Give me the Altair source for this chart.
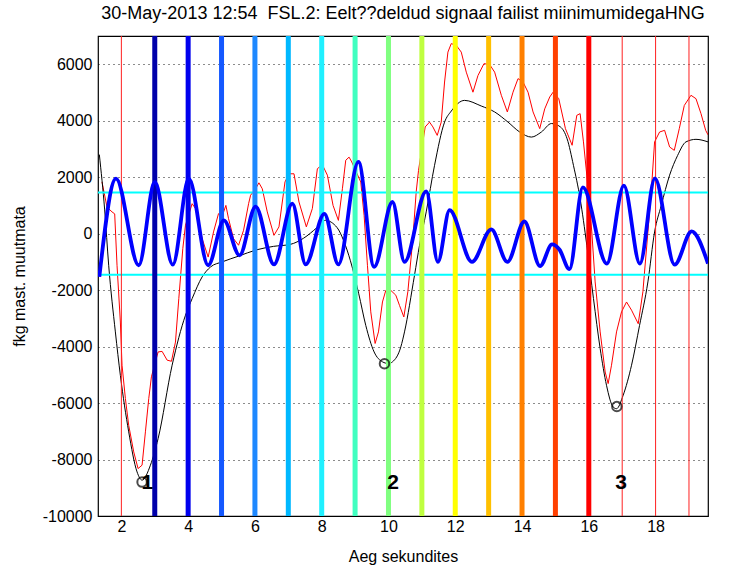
import altair as alt
import pandas as pd

title_text = "30-May-2013 12:54 \u00a0FSL.2: Eelt??deldud signaal failist miinimumidegaHNG"
x_title = "Aeg sekundites"
y_title = "fkg mast. muutmata"

# blue oscillating signal
blue_x = [1.34, 1.84, 2.52, 3.0, 3.54, 4.02, 4.6, 5.07, 5.54, 6.02, 6.57, 7.12, 7.52, 8.08, 8.5,
          9.1, 9.57, 10.12, 10.48, 11.13, 11.48, 11.83, 12.5, 13.08, 13.56, 14.07, 14.54, 14.9,
          15.12, 15.42, 15.82, 16.54, 17.05, 17.53, 17.98, 18.57, 19.08, 19.57]
blue_y = [-1530, 1950, -1120, 1830, -1100, 1950, -1120, 470, -770, 960, -1090, 1060, -1090, 700, -1090,
          2540, -1180, 1120, -1000, 1500, -1000, 830, -1000, 150, -1000, 430, -1150, -380,
          -560, -1260, 1640, -1060, 1700, -1060, 1960, -1100, 80, -1060]

# red noisy signal
red_x = [1.42, 1.57, 1.72, 1.8, 1.87, 1.97, 2.02, 2.12, 2.22, 2.37, 2.5, 2.62, 2.72, 2.82, 2.9,
         3.1, 3.22, 3.37, 3.5, 3.62, 3.72, 3.84, 3.92, 4.12, 4.22, 4.42, 4.6, 4.76, 4.91, 5.01,
         5.13, 5.21, 5.36, 5.51, 5.66, 5.81, 5.87, 6.02, 6.12, 6.22, 6.37, 6.57, 6.72, 6.9, 7.02,
         7.17, 7.32, 7.54, 7.72, 7.87, 8.02, 8.17, 8.34, 8.5, 8.62, 8.72, 8.82, 8.9, 9.17, 9.27,
         9.37, 9.47, 9.6, 9.7, 9.82, 9.92, 10.07, 10.22, 10.33, 10.46, 10.58, 10.73, 10.83, 10.9,
         11.1, 11.23, 11.33, 11.46, 11.58, 11.68, 11.78, 11.88, 12.03, 12.18, 12.33, 12.53, 12.68,
         12.86, 13.03, 13.18, 13.38, 13.56, 13.73, 13.88, 14.03, 14.18, 14.33, 14.53, 14.68, 14.83,
         14.93, 15.1, 15.3, 15.5, 15.64, 15.74, 15.84, 15.94, 16.09, 16.19, 16.34, 16.49, 16.58,
         16.68, 16.83, 16.98, 17.13, 17.28, 17.48, 17.62, 17.77, 17.87, 17.97, 18.12, 18.27, 18.42,
         18.56, 18.71, 18.86, 19.06, 19.21, 19.36, 19.5, 19.57]
red_y = [1830, 940, 770, 700, -1120, -3130, -4660, -5840, -6790, -7730, -8320, -8200, -7020, -5840, -5070,
         -4190, -4170, -4480, -4520, -3840, -2300, -530, 300, 1060, 890, -180, -830, 60, 710, 590,
         1000, 530, -180, -410, 120, 1060, 1360, 1590, 1800, 1590, 770, -60, 240, 1830, 2120,
         2120, 1120, 240, 890, 2300, 2440, 2070, 1000, 470, 1590, 2600, 2710, 2540, 1830, 650,
         -1120, -2770, -3890, -3480, -2420, -2010, -2010, -2180, -2540, -2950, -2060, -180, 1480, 2240,
         3780, 3950, 3780, 3480, 3950, 5370, 6430, 6730, 6670, 6430, 5720, 5010, 5600,
         6020, 5990, 5720, 4900, 4310, 5010, 5490, 5370, 5010, 4310, 3720, 4420, 4840,
         5010, 4780, 3720, 3130, 4190, 4250, 3250, 2070, 60, -1710, -3480, -4900, -5310,
         -4660, -3480, -2770, -2420, -2710, -3190, -2060, 60, 1480, 3250, 3600, 3660, 3070,
         2950, 3720, 4540, 4900, 4780, 4250, 3660, 3500]

# black smooth signal
black_x = [1.34, 1.5, 1.62, 1.82, 1.97, 2.22, 2.47, 2.62, 2.87, 3.1, 3.52, 3.92, 4.12, 4.42, 4.67,
           5.02, 5.5, 6.06, 6.56, 7.06, 7.46, 7.86, 8.11, 8.46, 8.66, 8.86, 9.11, 9.32, 9.57, 9.82,
           10.0, 10.12, 10.37, 10.48, 10.78, 10.93, 11.13, 11.38, 11.68, 11.88, 12.28, 12.78, 13.18,
           13.58, 13.93, 14.28, 14.58, 14.88, 15.15, 15.35, 15.54, 15.74, 15.94, 16.14, 16.34, 16.53,
           16.73, 16.83, 17.03, 17.28, 17.52, 17.77, 17.97, 18.17, 18.42, 18.66, 18.91, 19.21, 19.57]
black_y = [2800, 840, -1120, -3480, -5020, -7020, -8440, -8730, -8200, -7260, -4660, -2890, -2300, -1530, -1180,
           -1000, -800, -570, -450, -380, -160, 215, 470, 215, -255, -960, -2130, -3250, -4190, -4540,
           -4600, -4540, -4010, -3480, -1470, -410, 770, 2420, 3950, 4340, 4720, 4520, 4310,
           3950, 3600, 3420, 3600, 3900, 3780, 3360, 2420, 1240, -410, -2300, -4070, -5370,
           -6140, -6200, -5720, -4660, -3250, -1710, 60, 1000, 2070, 2770, 3250, 3340, 3250]

# minima markers and labels
min_x = [2.62, 9.88, 16.84]
min_y = [-8800, -4610, -6120]
lab_x = [2.78, 10.14, 16.97]
lab_y = [-8820, -8820, -8820]
lab_t = ["1", "2", "3"]

# threshold lines
thr_y = [1460, -1460]

# vertical second markers
vthin_x = [2, 17, 18, 19]
vthick_x = [3, 4, 5, 6, 7, 8, 9, 10, 11, 12, 13, 14, 15, 16]
vthick_c = ["#0000aa", "#0000ee", "#1458ff", "#1e88ff", "#00b8ff", "#20f0ff", "#40ffc0",
            "#80ff80", "#bfff40", "#ffff00", "#ffc000", "#ff8000", "#ff4000", "#ff0000"]

x_ticks = [2, 4, 6, 8, 10, 12, 14, 16, 18]
y_ticks = [-10000, -8000, -6000, -4000, -2000, 0, 2000, 4000, 6000]
X_DOMAIN = [1.3, 19.57]
Y_DOMAIN = [-10000, 7000]

FONT = "Liberation Sans"

xenc = alt.X("x:Q", scale=alt.Scale(domain=X_DOMAIN, nice=False, zero=False),
             axis=alt.Axis(values=x_ticks, title=x_title, labelExpr="'' + datum.value", grid=False,
                           titleX=305, titleY=40, titleBaseline="middle", titleAlign="center"))
yenc = alt.Y("y:Q", scale=alt.Scale(domain=Y_DOMAIN, nice=False, zero=False),
             axis=alt.Axis(values=y_ticks, title=y_title, labelExpr="'' + datum.value",
                           titleX=-79, titleY=240, titleBaseline="middle", titleAlign="center",
                           titleAngle=-90))

df_blue = pd.DataFrame({"x": blue_x, "y": blue_y})
df_red = pd.DataFrame({"x": red_x, "y": red_y})
df_black = pd.DataFrame({"x": black_x, "y": black_y})
df_min = pd.DataFrame({"x": min_x, "y": min_y})
df_lab = pd.DataFrame({"x": lab_x, "y": lab_y, "t": lab_t})
df_thr = pd.DataFrame({"y": thr_y})
df_vthin = pd.DataFrame({"x": vthin_x})
df_vthick = pd.DataFrame({"x": vthick_x, "c": vthick_c})

red = alt.Chart(df_red).mark_line(color="#ff0000", strokeWidth=1, clip=True).encode(x=xenc, y=yenc)
black = alt.Chart(df_black).mark_line(color="#000000", strokeWidth=1, clip=True,
                                      interpolate="monotone").encode(x=xenc, y=yenc)
thr = alt.Chart(df_thr).mark_rule(color="#00ffff", strokeWidth=2).encode(y=yenc)
vthin = alt.Chart(df_vthin).mark_rule(color="#ff2020", strokeWidth=1).encode(x=xenc)
vthick = alt.Chart(df_vthick).mark_rule(strokeWidth=5).encode(
    x=xenc, color=alt.Color("c:N", scale=None, legend=None))
blue = alt.Chart(df_blue).mark_line(color="#0000ff", strokeWidth=3.8, clip=True,
                                    interpolate="monotone").encode(x=xenc, y=yenc)
mins = alt.Chart(df_min).mark_point(shape="circle", size=90, color="black", strokeWidth=2,
                                    filled=False).encode(x=xenc, y=yenc)
labs = alt.Chart(df_lab).mark_text(font=FONT, fontSize=21, fontWeight="bold", color="black",
                                   align="center", baseline="middle").encode(x=xenc, y=yenc, text="t:N")

chart = alt.layer(red, black, thr, vthin, vthick, blue, mins, labs).properties(
    width=610, height=480,
    autosize=alt.AutoSizeParams(type="none"),
    padding={"left": 98, "top": 36, "right": 24, "bottom": 51},
    title=alt.TitleParams(text=title_text, font=FONT, fontSize=18, fontWeight="normal",
                          color="black", anchor="middle", offset=11),
).configure_view(
    stroke="black", strokeWidth=1.2
).configure_axis(
    grid=True, gridDash=[1, 4], gridColor="black", gridOpacity=0.9, gridWidth=1,
    domain=False, ticks=False, tickSize=0,
    labelFont=FONT, labelFontSize=16, labelColor="black", labelPadding=6,
    titleFont=FONT, titleFontSize=16, titleFontWeight="normal", titleColor="black"
).configure_axisX(labelPadding=2)

chart.save("out.html", embed_options={"renderer": "svg", "actions": False})
